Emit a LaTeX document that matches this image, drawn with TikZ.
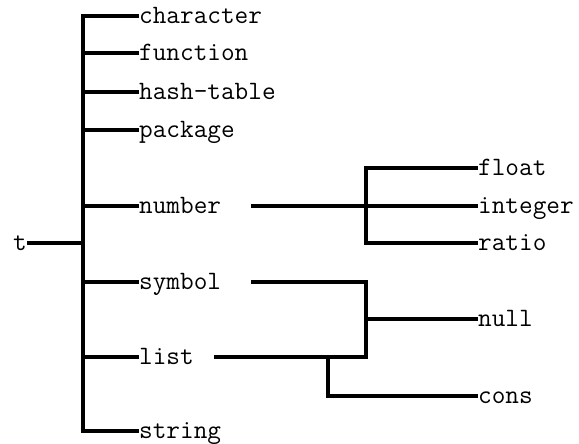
\documentclass[tikz,border=0pt]{standalone}
\begin{document}
\begin{tikzpicture}[x=1pt,y=-1pt,
  lbl/.style={anchor=west,inner sep=0pt,font=\fontsize{26.5}{30}\selectfont\ttfamily,text height=15pt,text depth=0pt},
  conn/.style={line width=3.6pt}]
\useasboundingbox (0,0) rectangle (579,444);
\node[lbl,anchor=east] (t) at (27,243) {t};
\node[lbl] (character) at (139,16) {character};
\node[lbl] (function) at (139,53) {function};
\node[lbl] (hashtable) at (139,92) {hash-table};
\node[lbl] (package) at (139,130) {package};
\node[lbl] (number) at (139,206) {number};
\node[lbl] (symbol) at (139,282) {symbol};
\node[lbl] (list) at (139,357) {list};
\node[lbl] (string) at (139,431) {string};
\node[lbl] (float) at (478,168) {float};
\node[lbl] (integer) at (478,206) {integer};
\node[lbl] (ratio) at (478,243) {ratio};
\node[lbl] (null) at (478,319) {null};
\node[lbl] (cons) at (478,396) {cons};
\coordinate (root) at (83,243);
\coordinate (nb) at (366,206);
\coordinate (lj) at (366,357);
\coordinate (cj) at (328,357);
\draw[conn] (t.east) -- (root);
\draw[conn] (character.west) -| (root) |- (string.west);
\foreach \n in {function,hashtable,package,number,symbol,list}
  \draw[conn] (\n.west) -- (\n.west -| root);
\draw[conn] ([xshift=30pt]number.east) -- (integer.west);
\draw[conn] (float.west) -| (nb) |- (ratio.west);
\draw[conn] ([xshift=30pt]symbol.east) -| (lj) -- ([xshift=20pt]list.east);
\draw[conn] (null.west) -- (null.west -| lj);
\draw[conn] (cj) |- (cons.west);
\end{tikzpicture}
\end{document}
